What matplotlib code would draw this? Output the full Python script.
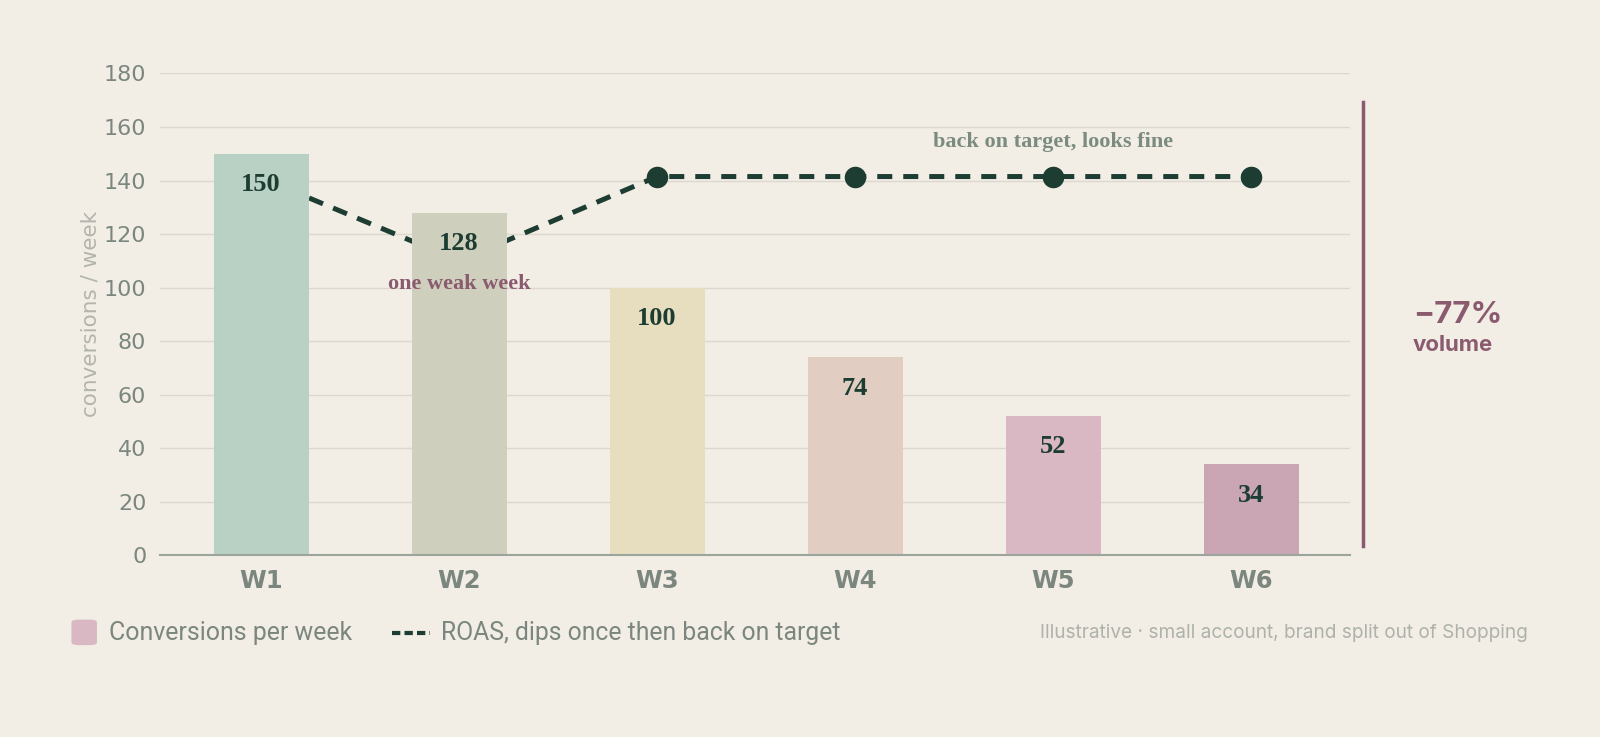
import numpy as np
import matplotlib.pyplot as plt
from matplotlib.patches import FancyBboxPatch
from matplotlib.lines import Line2D

weeks = ["W1", "W2", "W3", "W4", "W5", "W6"]
conversions = [150, 128, 100, 74, 52, 34]
roas = [141, 110, 141.5, 141.5, 141.5, 141.5]  # plotted on the conversions scale
bar_colors = ["#b9d1c4", "#cfcfbd", "#e7dec0", "#e2cdc2", "#d9b7c3", "#caa5b4"]

bg = "#f2eee6"
dark = "#1d3d32"
tick_c = "#7b877e"
mauve = "#8a5a6e"

W, H = 1568, 722  # reference measured at this scale


def fx(px):
    return px / W


def fy(py):
    return 1 - py / H


fig = plt.figure(figsize=(16, 7.37), dpi=100, facecolor=bg)
ax = fig.add_axes([fx(157), fy(544), fx(1323) - fx(157), fy(72) - fy(544)],
                  facecolor=bg)

x = np.arange(len(weeks))
ax.plot(x, roas, color=dark, lw=3.6, ls=(0, (3, 2.2)), zorder=1)
ax.scatter(x, roas, s=210, color=dark, zorder=1)
ax.bar(x, conversions, width=0.48, color=bar_colors, zorder=2)

for xi, v in zip(x, conversions):
    ax.text(xi, v - 11.5, str(v), ha="center", va="center", fontsize=19,
            fontweight="bold", family="Liberation Serif", color=dark, zorder=3)

ax.text(1, 101.5, "one weak week", ha="center", va="center", fontsize=16,
        fontweight="bold", family="Liberation Serif", color=mauve, zorder=3)
ax.text(4, 154.5, "back on target, looks fine", ha="center", va="center",
        fontsize=16, fontweight="bold", family="Liberation Serif",
        color="#7b8b80", zorder=3)

ax.set_xlim(-0.51, 5.5)
ax.set_ylim(0, 180)
ax.set_yticks(range(0, 181, 20))
ax.set_xticks(x)
ax.set_xticklabels(weeks, fontsize=17.5, fontweight="bold", color=tick_c)
ax.tick_params(axis="y", labelsize=16, labelcolor=tick_c, length=0, pad=10)
ax.tick_params(axis="x", length=0, pad=10)
ax.grid(axis="y", color="#dcd8cf", lw=1, zorder=0)
ax.set_axisbelow(True)
for s in ["top", "right", "left"]:
    ax.spines[s].set_visible(False)
ax.spines["bottom"].set_color("#9ba59c")
ax.spines["bottom"].set_linewidth(1.5)
ax.set_ylabel("conversions / week", fontsize=15.5, color="#b3b5ad", labelpad=2)

# bracket and callout on the right
fig.add_artist(Line2D([fx(1336), fx(1336)], [fy(100), fy(535)],
                      color=mauve, lw=2.5))
fig.text(fx(1385), fy(309), "\u221277%", fontsize=22.5, fontweight="bold",
         family="Inter", color=mauve, va="center", ha="left")
fig.text(fx(1384), fy(338), "volume", fontsize=16, fontweight="bold",
         family="Inter", color=mauve, va="center", ha="left")

# legend, drawn by hand
ly = fy(620)
fig.add_artist(FancyBboxPatch((fx(70), fy(632)), fx(25), fy(607) - fy(632),
                              boxstyle="round,pad=0,rounding_size=0.004",
                              facecolor="#d9b7c3", edgecolor="none"))
fig.text(fx(107), ly, "Conversions per week", fontsize=17.9, family="Roboto",
         color=tick_c, va="center", ha="left")
fig.add_artist(Line2D([fx(384), fx(421)], [ly, ly], color=dark, lw=3,
                      ls=(0, (2, 1))))
fig.text(fx(432), ly, "ROAS, dips once then back on target", fontsize=17.8,
         family="Roboto", color=tick_c, va="center", ha="left")

fig.text(fx(1497), ly,
         "Illustrative \u00b7 small account, brand split out of Shopping",
         fontsize=13.7, family="Inter", color="#aeb2aa", ha="right",
         va="center")

plt.savefig("out.png", dpi=100, facecolor=bg)
